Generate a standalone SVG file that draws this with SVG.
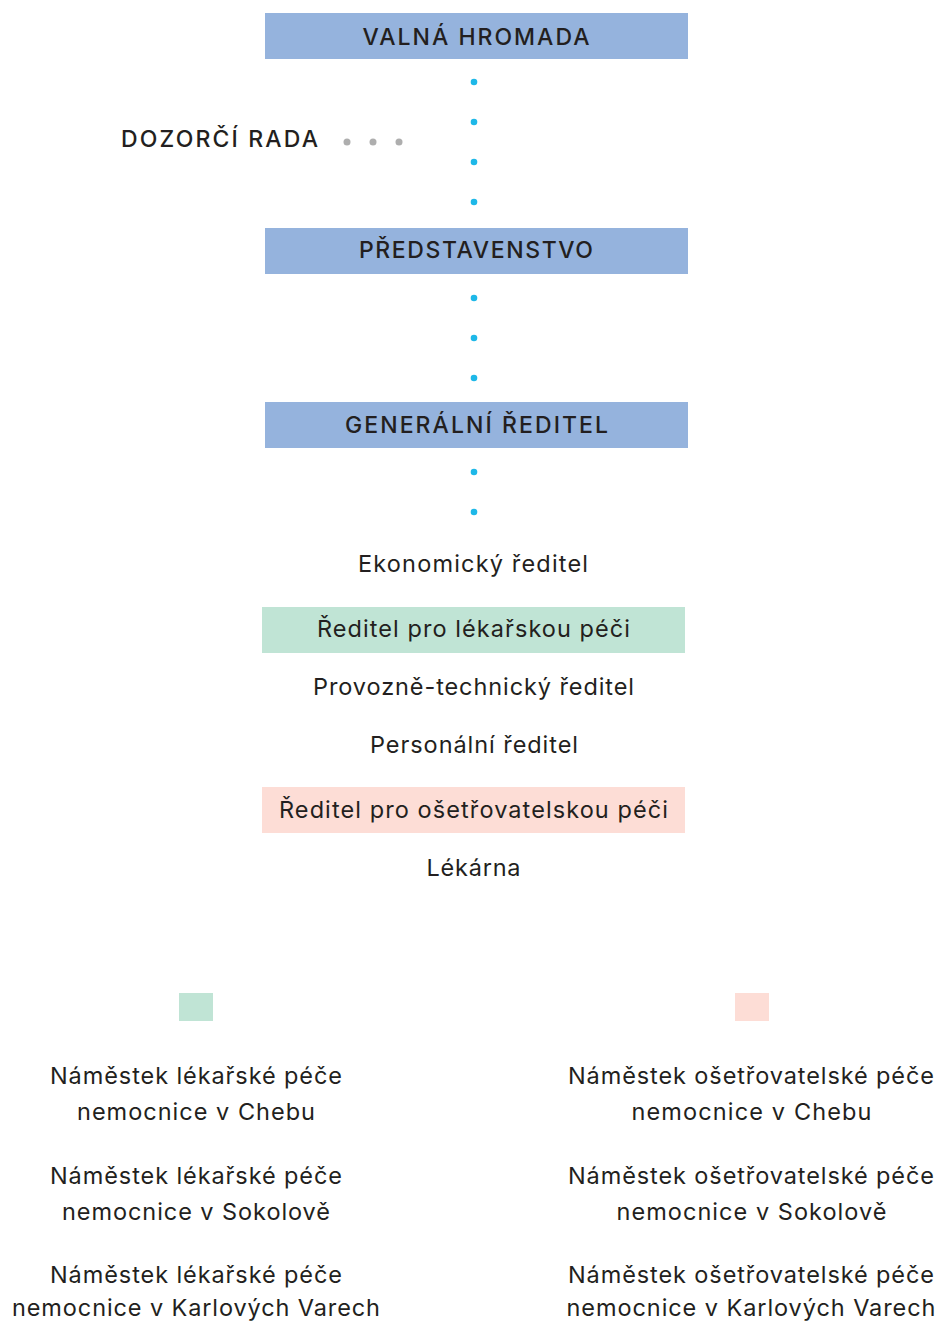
<svg xmlns="http://www.w3.org/2000/svg" width="941" height="1323" viewBox="0 0 941 1323">
<style>
.bg{fill:#ffffff}
.blue{fill:#95B3DD}
.green{fill:#C0E4D5}
.pink{fill:#FDDDD6}
.h{font-family:Inter,"Noto Sans","Liberation Sans",sans-serif;font-size:23px;font-weight:500;fill:#231F20}
.t{font-family:Inter,"Noto Sans","Liberation Sans",sans-serif;font-size:23.5px;font-weight:400;fill:#231F20}
.c{text-anchor:middle}
.bd{fill:#1DB8E8}
.gd{fill:#AEAEAE}
</style>
<rect class="bg" x="0" y="0" width="941" height="1323"/>
<g id="connectors">
<circle class="bd" cx="474" cy="82" r="3.3"/>
<circle class="bd" cx="474" cy="122" r="3.3"/>
<circle class="bd" cx="474" cy="162" r="3.3"/>
<circle class="bd" cx="474" cy="202" r="3.3"/>
<circle class="bd" cx="474" cy="298" r="3.3"/>
<circle class="bd" cx="474" cy="338" r="3.3"/>
<circle class="bd" cx="474" cy="378" r="3.3"/>
<circle class="bd" cx="474" cy="472" r="3.3"/>
<circle class="bd" cx="474" cy="512" r="3.3"/>
<circle class="gd" cx="347" cy="142" r="3.5"/>
<circle class="gd" cx="373" cy="142" r="3.5"/>
<circle class="gd" cx="399" cy="142" r="3.5"/>
</g>
<g id="valna-hromada">
<rect class="blue" x="265" y="13" width="423" height="46"/>
<text class="h c" x="476" y="45" textLength="227" lengthAdjust="spacing">VALNÁ HROMADA</text>
</g>
<g id="dozorci-rada">
<text class="h" x="121" y="147" textLength="197" lengthAdjust="spacing">DOZORČÍ RADA</text>
</g>
<g id="predstavenstvo">
<rect class="blue" x="265" y="228" width="423" height="46"/>
<text class="h c" x="476" y="258" textLength="234" lengthAdjust="spacing">PŘEDSTAVENSTVO</text>
</g>
<g id="generalni-reditel">
<rect class="blue" x="265" y="402" width="423" height="46"/>
<text class="h c" x="476.5" y="433" textLength="263" lengthAdjust="spacing">GENERÁLNÍ ŘEDITEL</text>
</g>
<g id="ekonomicky">
<text class="t c" x="473" y="572" textLength="230" lengthAdjust="spacing">Ekonomický ředitel</text>
</g>
<g id="lekarska">
<rect class="green" x="262" y="607" width="423" height="46"/>
<text class="t c" x="473.5" y="637" textLength="313" lengthAdjust="spacing">Ředitel pro lékařskou péči</text>
</g>
<g id="provozne">
<text class="t c" x="473.5" y="695" textLength="321" lengthAdjust="spacing">Provozně-technický ředitel</text>
</g>
<g id="personalni">
<text class="t c" x="474" y="753" textLength="208" lengthAdjust="spacing">Personální ředitel</text>
</g>
<g id="osetrovatelska">
<rect class="pink" x="262" y="787" width="423" height="46"/>
<text class="t c" x="473.5" y="818" textLength="389" lengthAdjust="spacing">Ředitel pro ošetřovatelskou péči</text>
</g>
<g id="lekarna">
<text class="t c" x="473.5" y="876" textLength="94" lengthAdjust="spacing">Lékárna</text>
</g>
<g id="legend-green">
<rect class="green" x="179" y="993" width="34" height="28"/>
</g>
<g id="legend-pink">
<rect class="pink" x="735" y="993" width="34" height="28"/>
</g>
<g id="nam-lek-cheb">
<text class="t c" x="196" y="1084" textLength="292" lengthAdjust="spacing">Náměstek lékařské péče</text>
<text class="t c" x="196" y="1120" textLength="238" lengthAdjust="spacing">nemocnice v Chebu</text>
</g>
<g id="nam-lek-sokolov">
<text class="t c" x="196" y="1184" textLength="292" lengthAdjust="spacing">Náměstek lékařské péče</text>
<text class="t c" x="196" y="1220" textLength="268" lengthAdjust="spacing">nemocnice v Sokolově</text>
</g>
<g id="nam-lek-kv">
<text class="t c" x="196" y="1283" textLength="292" lengthAdjust="spacing">Náměstek lékařské péče</text>
<text class="t c" x="196" y="1316" textLength="368" lengthAdjust="spacing">nemocnice v Karlových Varech</text>
</g>
<g id="nam-os-cheb">
<text class="t c" x="751" y="1084" textLength="366" lengthAdjust="spacing">Náměstek ošetřovatelské péče</text>
<text class="t c" x="751.5" y="1120" textLength="240" lengthAdjust="spacing">nemocnice v Chebu</text>
</g>
<g id="nam-os-sokolov">
<text class="t c" x="751" y="1184" textLength="366" lengthAdjust="spacing">Náměstek ošetřovatelské péče</text>
<text class="t c" x="751.5" y="1220" textLength="270" lengthAdjust="spacing">nemocnice v Sokolově</text>
</g>
<g id="nam-os-kv">
<text class="t c" x="751" y="1283" textLength="366" lengthAdjust="spacing">Náměstek ošetřovatelské péče</text>
<text class="t c" x="751" y="1316" textLength="369" lengthAdjust="spacing">nemocnice v Karlových Varech</text>
</g>
</svg>
